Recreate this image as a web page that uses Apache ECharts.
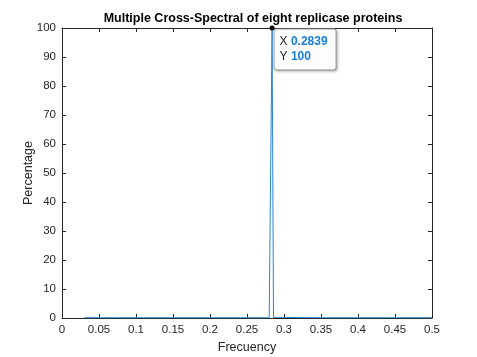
<!DOCTYPE html>
<html><head><meta charset="utf-8">
<script src="https://cdn.jsdelivr.net/npm/echarts@6/dist/echarts.min.js"></script>
<style>html,body{margin:0;padding:0;background:#fff}#c{width:477px;height:357px}</style>
</head><body><div id="c"></div>
<script>
const title = 'Multiple Cross-Spectral of eight replicase proteins';
const xName = 'Frecuency';
const yName = 'Percentage';
const xTicks = [0, 0.05, 0.1, 0.15, 0.2, 0.25, 0.3, 0.35, 0.4, 0.45, 0.5];
const freq =    [0.03, 0.073, 0.075, 0.077, 0.15, 0.2, 0.25, 0.2800, 0.2820, 0.2839, 0.2858, 0.2880, 0.35, 0.40, 0.445, 0.447, 0.449, 0.5];
const percent = [0.1,  0.1,   0.5,   0.1,   0.1,  0.1, 0.1,  0.1,    0.2,    100,    0.2,    0.1,    0.1,  0.1,  0.1,   0.7,   0.1,   0.1];
const peakX = 0.2839, peakY = 100;

const chart = echarts.init(document.getElementById('c'), null, {renderer:'canvas'});
const axisCol = '#262626';
const font = 'Liberation Sans, Arial, sans-serif';
const baseAxis = {
  axisLine:{show:true, onZero:false, lineStyle:{color:axisCol, width:1}},
  axisTick:{show:true, inside:true, length:4, lineStyle:{color:axisCol}},
  splitLine:{show:false},
  axisLabel:{color:axisCol, fontSize:11.5, fontFamily:font}
};
chart.setOption({
  animation:false,
  backgroundColor:'#fff',
  title:{text:title, left:248, top:7, textAlign:'center',
    textStyle:{fontSize:12.5, fontWeight:'bold', color:'#000', fontFamily:font}},
  grid:{left:62, right:45, top:28, bottom:39, containLabel:false, outerBoundsMode:'none'},
  xAxis:[
    Object.assign({}, baseAxis, {type:'value', min:0, max:0.5, interval:0.05, position:'bottom',
      name:xName, nameLocation:'middle', nameGap:23, nameMoveOverlap:false,
      nameTextStyle:{fontSize:12.5, color:axisCol, fontFamily:font},
      axisLabel:{color:axisCol, fontSize:11.5, fontFamily:font, margin:6,
        formatter:v=>String(+v.toFixed(2))}}),
    Object.assign({}, baseAxis, {type:'value', min:0, max:0.5, interval:0.05, position:'top',
      axisLabel:{show:false}})
  ],
  yAxis:[
    Object.assign({}, baseAxis, {type:'value', min:0, max:100, interval:10, position:'left',
      name:yName, nameLocation:'middle', nameGap:27, nameMoveOverlap:false,
      nameTextStyle:{fontSize:12.5, color:axisCol, fontFamily:font},
      axisLabel:{color:axisCol, fontSize:11.5, fontFamily:font, margin:6}}),
    Object.assign({}, baseAxis, {type:'value', min:0, max:100, interval:10, position:'right',
      axisLabel:{show:false}})
  ],
  series:[{
    type:'line', xAxisIndex:0, yAxisIndex:0,
    data: freq.map((f,i)=>[f, percent[i]]),
    showSymbol:false, lineStyle:{color:'#2a86cf', width:1}, z:3,
    markPoint:{
      symbol:'circle', symbolSize:5, itemStyle:{color:'#000'},
      data:[{coord:[peakX, peakY], value:peakY}],
      label:{show:true, position:[5,4],
        backgroundColor:'#fdfdfd', borderColor:'#a8a8a8', borderWidth:1, borderRadius:2,
        padding:[5,8,5,5], shadowColor:'rgba(0,0,0,0.25)', shadowBlur:3, shadowOffsetX:1, shadowOffsetY:1,
        formatter:'{a|X} {b|'+peakX+'}\n{a|Y} {b|'+peakY+'}',
        rich:{
          a:{color:'#262626', fontSize:12, fontFamily:font, lineHeight:15},
          b:{color:'#1a7fd9', fontSize:12, fontWeight:'bold', fontFamily:font, lineHeight:15}
        }
      }
    }
  }]
});
</script></body></html>
